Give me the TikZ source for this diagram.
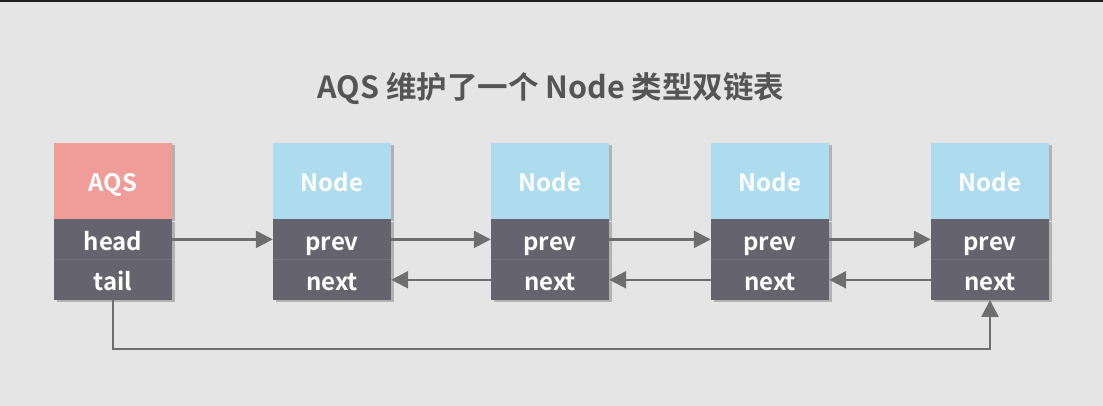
\documentclass[tikz,border=0pt]{standalone}
\usepackage{fontspec}
\usepackage{xcolor}
\usetikzlibrary{arrows.meta,positioning,shadows}
\newfontfamily\cjk{Noto Sans CJK SC}[BoldFont={Noto Sans CJK SC Bold}]
\definecolor{bg}{HTML}{E5E5E5}
\definecolor{rim}{HTML}{1E1E1E}
\definecolor{titlec}{HTML}{555555}
\definecolor{aqsc}{HTML}{F09C99}
\definecolor{nodec}{HTML}{ADDCEF}
\definecolor{fieldc}{HTML}{65636E}
\definecolor{sepc}{HTML}{74727C}
\definecolor{linkc}{HTML}{6E6E6E}
\tikzset{
  box/.style={minimum width=118pt, inner sep=0pt, text=white,
    text height=22pt, text depth=0pt,
    font=\cjk\bfseries\fontsize{24}{24}\selectfont,
    drop shadow={shadow xshift=2.5pt, shadow yshift=-2.5pt, opacity=0.22, fill=black}},
  hd/.style={box, minimum height=76pt},
  fld/.style={box, fill=fieldc, minimum height=40pt},
  sep/.style={draw=sepc, line width=0.8pt},
  link/.style={draw=linkc, line width=2.5pt, -{Triangle[length=17pt,width=17pt]}},
  ttl/.style={text=titlec, font=\cjk\bfseries\fontsize{30.5}{30.5}\selectfont},
}
\begin{document}
\begin{tikzpicture}[x=1pt,y=1pt]
% background and top rim
\fill[bg] (0,0) rectangle (1103,406);
\fill[rim] (0,404) rectangle (1103,406);
\useasboundingbox (0,0) rectangle (1103,406);

% title
\node[ttl, anchor=base] (title) at (551,307) {AQS 维护了一个 Node 类型双链表};

% AQS box
\node[hd, fill=aqsc] (aqs) at (113,225) {AQS};
\node[fld, below=0pt of aqs] (head) {head};
\node[fld, below=0pt of head] (tail) {tail};
\draw[sep] (head.south west) -- (head.south east);

% Node boxes
\foreach \i/\x in {1/332,2/550,3/770,4/990}{
  \node[hd, fill=nodec] (n\i) at (\x,225) {Node};
  \node[fld, below=0pt of n\i] (prev\i) {prev};
  \node[fld, below=0pt of prev\i] (next\i) {next};
  \draw[sep] (prev\i.south west) -- (prev\i.south east);
}

% links
\draw[link] (head) -- (prev1);
\foreach \i/\j in {1/2,2/3,3/4}{
  \draw[link] (prev\i) -- (prev\j);
  \draw[link] (next\j) -- (next\i);
}
\coordinate (low) at (0,57);
\draw[link] (tail.south) -- (tail.south |- low) -| (next4.south);
\end{tikzpicture}
\end{document}
